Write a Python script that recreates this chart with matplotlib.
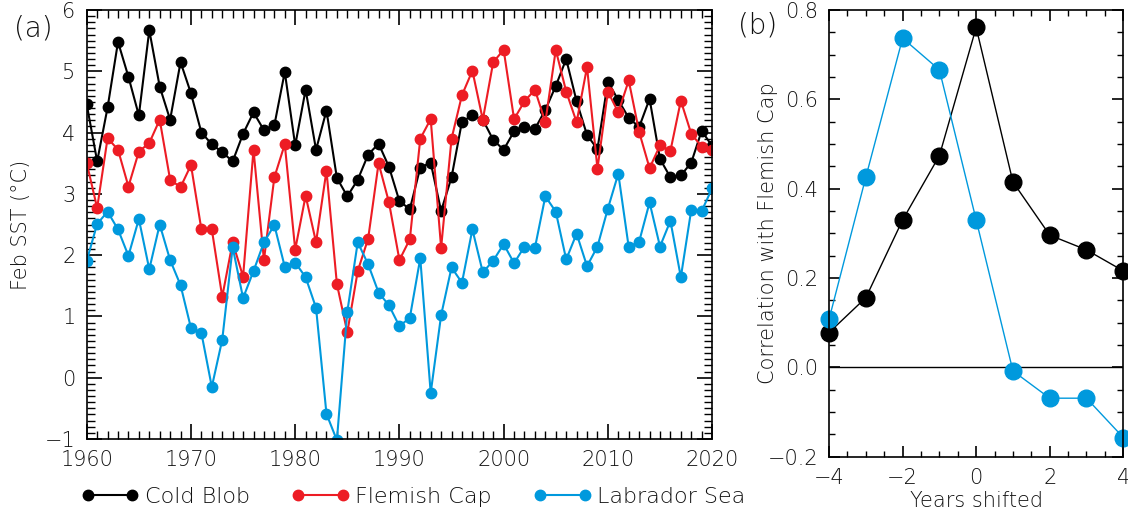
import matplotlib
matplotlib.use("Agg")
import matplotlib.pyplot as plt
from matplotlib.ticker import MultipleLocator

plt.rcParams['font.family'] = ['DejaVu Sans']
plt.rcParams['font.weight'] = 'light'
plt.rcParams['axes.labelweight'] = 'light'

years = list(range(1960, 2021))

cold_blob = [4.46, 3.53, 4.41, 5.48, 4.91, 4.28, 5.67, 4.75, 4.21, 5.15,
             4.64, 4.00, 3.81, 3.68, 3.53, 3.98, 4.33, 4.04, 4.12, 4.99,
             3.79, 4.70, 3.72, 4.36, 3.26, 2.96, 3.23, 3.64, 3.82, 3.44,
             2.88, 2.75, 3.43, 3.51, 2.72, 3.27, 4.18, 4.28, 4.21, 3.88,
             3.72, 4.02, 4.09, 4.06, 4.37, 4.76, 5.20, 4.51, 3.96, 3.73,
             4.83, 4.53, 4.24, 4.09, 4.55, 3.57, 3.27, 3.30, 3.51, 4.03,
             3.78]

flemish_cap = [3.50, 2.77, 3.91, 3.72, 3.12, 3.69, 3.83, 4.21, 3.23, 3.11,
               3.47, 2.42, 2.42, 1.32, 2.21, 1.65, 3.72, 1.92, 3.27, 3.81,
               2.09, 2.97, 2.21, 3.38, 1.53, 0.74, 1.74, 2.27, 3.50, 2.86,
               1.92, 2.26, 3.90, 4.22, 2.12, 3.90, 4.61, 5.01, 4.21, 5.15,
               5.35, 4.22, 4.51, 4.70, 4.17, 5.35, 4.67, 4.17, 5.07, 3.41,
               4.67, 4.33, 4.85, 4.01, 3.42, 3.79, 3.70, 4.52, 3.98, 3.77,
               3.72]

labrador_sea = [1.91, 2.51, 2.71, 2.42, 1.99, 2.59, 1.77, 2.50, 1.92, 1.51,
                0.81, 0.73, -0.15, 0.62, 2.13, 1.30, 1.74, 2.21, 2.49, 1.81,
                1.88, 1.64, 1.14, -0.59, -1.02, 1.08, 2.21, 1.85, 1.39, 1.18,
                0.84, 0.98, 1.95, -0.25, 1.02, 1.80, 1.55, 2.42, 1.72, 1.91,
                2.18, 1.87, 2.14, 2.12, 2.96, 2.71, 1.93, 2.35, 1.82, 2.14,
                2.76, 3.33, 2.13, 2.22, 2.86, 2.14, 2.56, 1.64, 2.74, 2.72,
                3.09]

shifts = [-4, -3, -2, -1, 0, 1, 2, 3, 4]
corr_cold_blob = [0.078, 0.156, 0.330, 0.474, 0.761, 0.415, 0.296, 0.263, 0.216]
corr_labrador = [0.108, 0.426, 0.737, 0.666, 0.330, -0.008, -0.069, -0.069, -0.157]

black = 'black'
red = '#ED1C24'
blue = '#0099DD'
txt = '#111111'

fig = plt.figure(figsize=(11.28, 5.16), dpi=100)
ax1 = fig.add_axes([0.0769, 0.1492, 0.5544, 0.8314])
ax2 = fig.add_axes([0.735, 0.1149, 0.2608, 0.8657])

kw = dict(lw=1.5, marker='o', ms=7.5)
ax1.plot(years, cold_blob, color=black, label='Cold Blob', **kw)
ax1.plot(years, flemish_cap, color=red, label='Flemish Cap', **kw)
ax1.plot(years, labrador_sea, color=blue, label='Labrador Sea', **kw)
ax1.set_xlim(1960, 2020)
ax1.set_ylim(-1, 6)
ax1.xaxis.set_major_locator(MultipleLocator(10))
ax1.xaxis.set_minor_locator(MultipleLocator(1))
ax1.yaxis.set_major_locator(MultipleLocator(1))
ax1.yaxis.set_minor_locator(MultipleLocator(0.1))
ax1.set_ylabel('Feb SST (°C)', fontsize=15, color=txt, labelpad=10)

ax2.axhline(0, color='black', lw=1)
ax2.plot(shifts, corr_cold_blob, color=black, lw=1, marker='o', ms=12, clip_on=False)
ax2.plot(shifts, corr_labrador, color=blue, lw=1, marker='o', ms=12, clip_on=False)
ax2.set_xlim(-4, 4)
ax2.set_ylim(-0.2, 0.8)
ax2.xaxis.set_major_locator(MultipleLocator(2))
ax2.xaxis.set_minor_locator(MultipleLocator(0.5))
ax2.yaxis.set_major_locator(MultipleLocator(0.2))
ax2.yaxis.set_minor_locator(MultipleLocator(0.05))
ax2.set_xlabel('Years shifted', fontsize=15, color=txt, labelpad=2)
ax2.set_ylabel('Correlation with Flemish Cap', fontsize=15, color=txt, labelpad=-8)

for ax in (ax1, ax2):
    ax.tick_params(which='both', direction='in', top=True, right=True,
                   labelsize=15, labelcolor=txt)
    for s in ax.spines.values():
        s.set_linewidth(1.2)
ax1.tick_params(which='major', length=11, width=1.2, pad=8)
ax1.tick_params(which='minor', length=6, width=1)
ax2.tick_params(which='major', length=8, width=1.2, pad=8)
ax2.tick_params(which='minor', length=4, width=1)

fig.text(0.012, 0.93, '(a)', fontsize=20, color=txt)
fig.text(0.654, 0.935, '(b)', fontsize=20, color=txt)

fig.legend(loc='center left', bbox_to_anchor=(0.072, 0.037), ncol=3,
           frameon=False, fontsize=16, numpoints=2, handlelength=2.6,
           handletextpad=0.25, columnspacing=1.9, borderpad=0, borderaxespad=0,
           labelcolor=txt)

fig.savefig('out.png', dpi=100)
